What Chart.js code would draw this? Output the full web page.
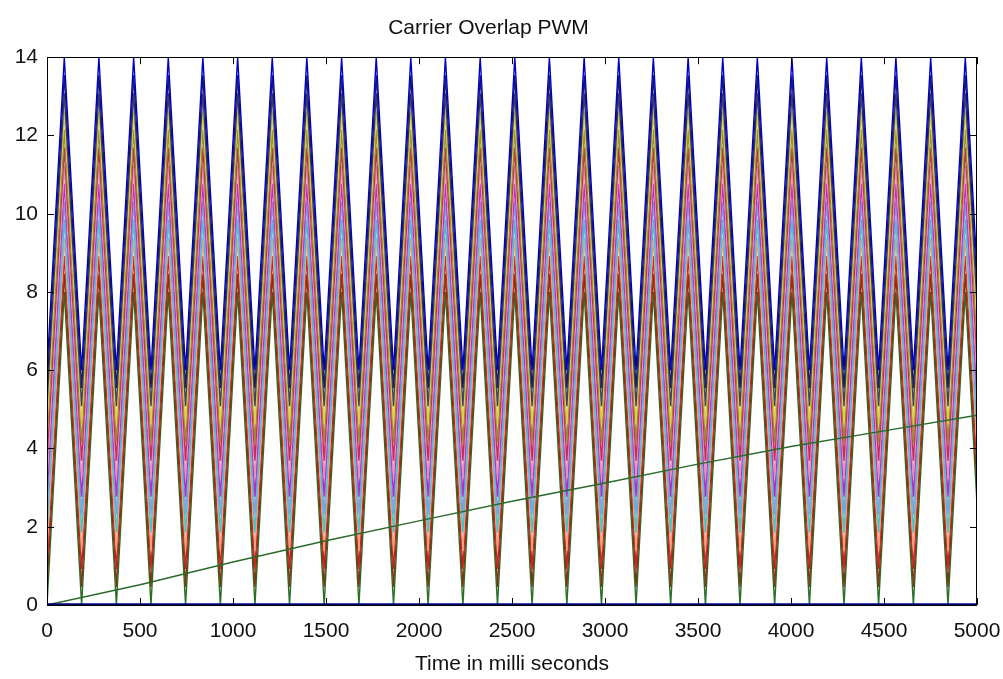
<!DOCTYPE html>
<html>
<head>
<meta charset="utf-8">
<script src="https://cdn.jsdelivr.net/npm/chart.js@4/dist/chart.umd.min.js"></script>
<style>
html,body{margin:0;padding:0;background:#fff;}
#wrap{width:1003px;height:679px;position:relative;}
</style>
</head>
<body>
<div id="wrap"><canvas id="c" width="1003" height="679"></canvas></div>
<script>
// ---- data ----
// time instants (ms) of the carrier vertices: even index = valley, odd index = peak
const vertexTimes = [0, 93, 186, 279, 373, 466, 559, 652, 745, 838, 932, 1025, 1118, 1211, 1304, 1397,
  1490, 1584, 1677, 1770, 1863, 1956, 2049, 2142, 2236, 2329, 2422, 2515, 2608, 2701, 2795, 2888,
  2981, 3074, 3167, 3260, 3353, 3447, 3540, 3633, 3726, 3819, 3912, 4005, 4099, 4192, 4285, 4378,
  4471, 4564, 4658, 4751, 4844, 4937, 5030];
// minimum and maximum of each overlapping carrier (bottom to top)
const carrierLow  = [0, 0.46, 0.92, 1.38, 1.85, 2.31, 2.77, 3.23, 3.69, 4.15, 4.62, 5.08, 5.54, 6.0];
const carrierHigh = [8, 8.46, 8.92, 9.38, 9.85, 10.31, 10.77, 11.23, 11.69, 12.15, 12.62, 13.08, 13.54, 14];
const carrierColors = ['#2a6e2a', '#7a3a10', '#cc2222', '#f0a080', '#3cc8c8', '#7fa0e6', '#b030c0',
  '#e890b8', '#c03050', '#9a8a30', '#d8d048', '#404068', '#1c1c60', '#0000c8'];
// reference (modulating) signal
const refTimes  = [0, 500, 1000, 1500, 2000, 2500, 3000, 3500, 4000, 4500, 5000];
const refValues = [0, 0.52, 1.1, 1.64, 2.15, 2.65, 3.12, 3.6, 4.05, 4.45, 4.85];
// output line at zero
const zeroTimes  = [0, 5000];
const zeroValues = [0, 0];
const xTicks = [0, 500, 1000, 1500, 2000, 2500, 3000, 3500, 4000, 4500, 5000];
const yTicks = [0, 2, 4, 6, 8, 10, 12, 14];

const FONT = '"Liberation Sans", Arial, Helvetica, sans-serif';

const datasets = [];
datasets.push({
  label: 'zero', data: zeroTimes.map((t, i) => ({x: t, y: zeroValues[i]})),
  borderColor: '#00007a', borderWidth: 3.5, pointRadius: 0, showLine: true, clip: 0, order: 0
});
datasets.push({
  label: 'ref', data: refTimes.map((t, i) => ({x: t, y: refValues[i]})),
  borderColor: '#2a6a2a', borderWidth: 1.5, pointRadius: 0, showLine: true, clip: 0, order: 1
});
for (let c = carrierLow.length - 1; c >= 0; c--) {
  datasets.push({
    label: 'carrier' + c,
    data: vertexTimes.map((t, i) => ({x: t, y: (i % 2 === 0) ? carrierLow[c] : carrierHigh[c]})),
    borderColor: carrierColors[c], borderWidth: 1.4, pointRadius: 0, showLine: true, clip: 0,
    order: 2 + (carrierLow.length - 1 - c)
  });
}

const boxTicks = {
  id: 'boxTicks',
  afterDatasetsDraw(chart) {
    const ctx = chart.ctx, a = chart.chartArea;
    const xs = chart.scales.x, ys = chart.scales.y;
    ctx.save();
    ctx.strokeStyle = '#000';
    ctx.lineWidth = 1;
    ctx.strokeRect(Math.round(a.left) + 0.5, Math.round(a.top) + 0.5,
      Math.round(a.right - a.left) - 1, Math.round(a.bottom - a.top));
    const L = 7;
    ctx.beginPath();
    xTicks.forEach(v => {
      const p = Math.round(xs.getPixelForValue(v)) + 0.5;
      ctx.moveTo(p, a.bottom); ctx.lineTo(p, a.bottom - L);
      ctx.moveTo(p, a.top); ctx.lineTo(p, a.top + L);
    });
    yTicks.forEach(v => {
      const p = Math.round(ys.getPixelForValue(v)) + 0.5;
      ctx.moveTo(a.left, p); ctx.lineTo(a.left + L, p);
      ctx.moveTo(a.right, p); ctx.lineTo(a.right - L, p);
    });
    ctx.stroke();
    ctx.restore();
  }
};

new Chart(document.getElementById('c'), {
  type: 'scatter',
  data: { datasets },
  plugins: [boxTicks],
  options: {
    responsive: false,
    animation: false,
    events: [],
    layout: { padding: { left: 0, right: 26, top: 0, bottom: 0 } },
    plugins: {
      legend: { display: false },
      tooltip: { enabled: false },
      title: {
        display: true, text: 'Carrier Overlap PWM', color: '#111',
        font: { family: FONT, size: 21, weight: 'normal' },
        padding: { top: 16, bottom: 16 }
      }
    },
    scales: {
      x: {
        type: 'linear', min: 0, max: 5000,
        afterBuildTicks: s => { s.ticks = xTicks.map(v => ({value: v})); },
        afterFit: s => { s.height = 74; s.paddingLeft = 0; s.paddingRight = 0; },
        grid: { display: false, drawTicks: false },
        border: { display: false },
        ticks: { color: '#111', font: { family: FONT, size: 21 }, padding: 14, maxRotation: 0,
          autoSkip: false, callback: v => String(v) },
        title: { display: true, text: 'Time in milli seconds', color: '#111',
          font: { family: FONT, size: 21 }, padding: { top: 0, bottom: 2 } }
      },
      y: {
        type: 'linear', min: 0, max: 14,
        afterBuildTicks: s => { s.ticks = yTicks.map(v => ({value: v})); },
        afterFit: s => { s.width = 47; s.paddingTop = 0; s.paddingBottom = 0; },
        grid: { display: false, drawTicks: false },
        border: { display: false },
        ticks: { color: '#111', font: { family: FONT, size: 21 }, padding: 9, callback: v => String(v) }
      }
    }
  }
});
</script>
</body>
</html>
